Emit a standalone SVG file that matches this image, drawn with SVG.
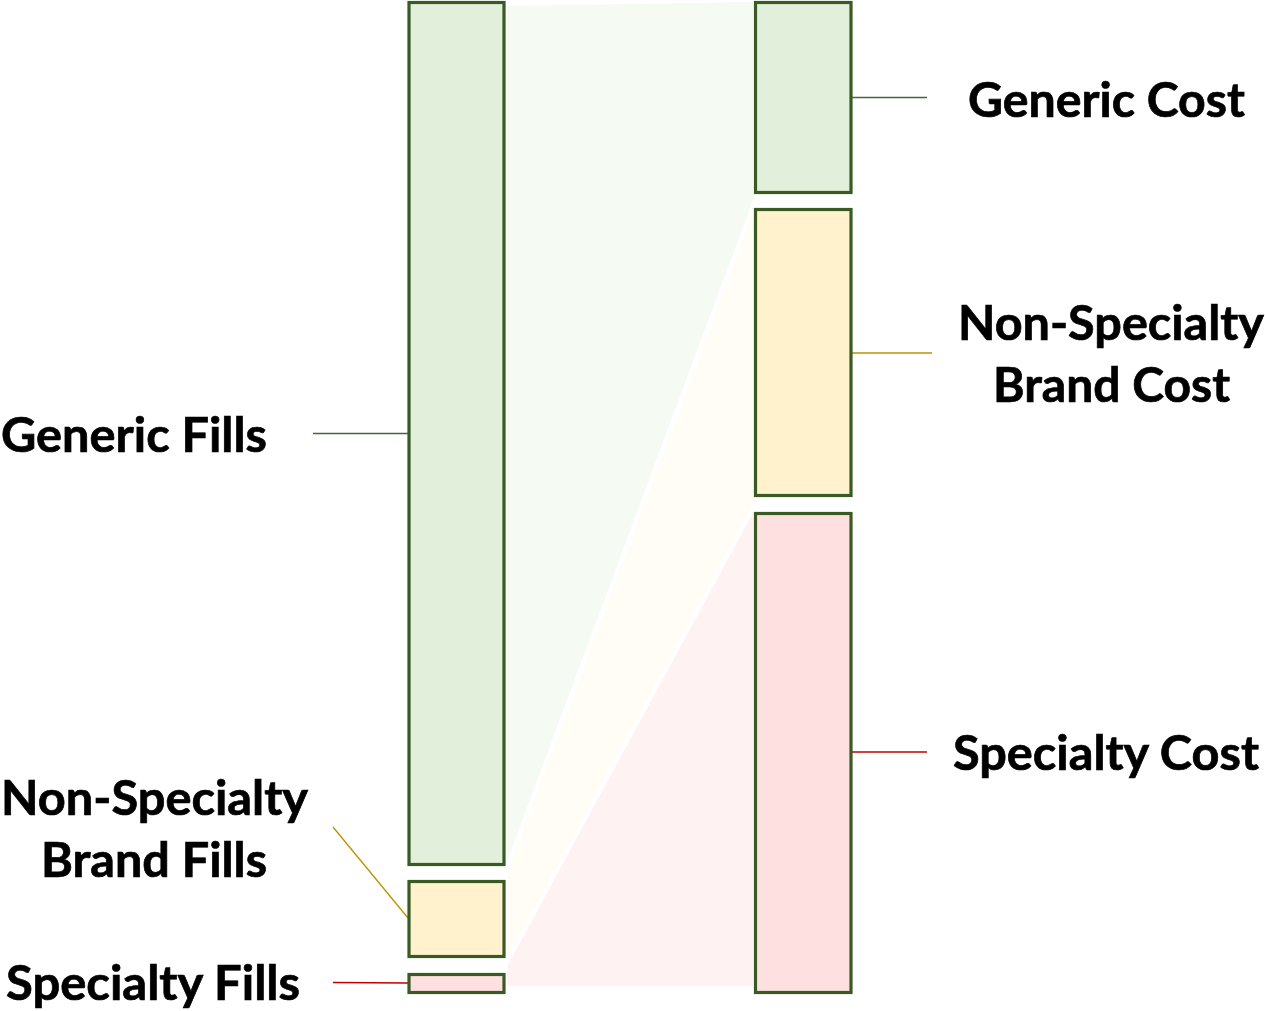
<svg xmlns="http://www.w3.org/2000/svg" width="1265" height="1011" viewBox="0 0 1265 1011">
<style>
.bar{stroke:#3a5a24;stroke-width:3.2}
.g{fill:#e2efda}
.y{fill:#fff2cc}
.p{fill:#ffe0e1}
.flow{stroke:#ffffff;stroke-width:4;stroke-linejoin:miter}
.lbl{font-family:Lato,"Open Sans","Liberation Sans",sans-serif;font-weight:bold;font-size:48px;fill:#000;stroke:#000;stroke-width:0.7}
.ln{fill:none;stroke-width:1.3}
</style>
<rect width="1265" height="1011" fill="#ffffff"/>
<g id="flows">
<polygon class="flow" fill="#f5faf2" points="505,4 755,0 755,201 505,873"/>
<polygon class="flow" fill="#fffdf6" points="505,873 755,201 755,505 505,966"/>
<polygon class="flow" fill="#fff2f2" points="505,966 755,505 755,988 505,988"/>
</g>
<g id="connectors">
<line class="ln" stroke="#4a6535" x1="313" y1="433.5" x2="408" y2="433.5"/>
<line class="ln" stroke="#bf9000" x1="333" y1="827" x2="408" y2="918"/>
<line class="ln" stroke="#c00000" x1="333" y1="982.5" x2="408" y2="983"/>
<line class="ln" stroke="#4a6535" x1="852" y1="97.5" x2="927" y2="97.5"/>
<line class="ln" stroke="#bf9000" x1="852" y1="353" x2="932" y2="353"/>
<line class="ln" stroke="#c00000" x1="852" y1="752" x2="927" y2="752"/>
</g>
<g id="generic-fills">
<rect class="bar g" x="409" y="2.5" width="95" height="862"/>
<text class="lbl" x="1" y="452" textLength="266" lengthAdjust="spacingAndGlyphs">Generic Fills</text>
</g>
<g id="non-specialty-brand-fills">
<rect class="bar y" x="409" y="881.5" width="95" height="75"/>
<text class="lbl" x="1" y="815" textLength="307" lengthAdjust="spacingAndGlyphs">Non-Specialty</text>
<text class="lbl" x="41" y="877" textLength="226" lengthAdjust="spacingAndGlyphs">Brand Fills</text>
</g>
<g id="specialty-fills">
<rect class="bar p" x="409" y="974.5" width="95" height="18"/>
<text class="lbl" x="6" y="1000" textLength="294" lengthAdjust="spacingAndGlyphs">Specialty Fills</text>
</g>
<g id="generic-cost">
<rect class="bar g" x="755.5" y="2.5" width="95.5" height="190"/>
<text class="lbl" x="968" y="117" textLength="277" lengthAdjust="spacingAndGlyphs">Generic Cost</text>
</g>
<g id="non-specialty-brand-cost">
<rect class="bar y" x="755.5" y="209.5" width="95.5" height="286"/>
<text class="lbl" x="958" y="340" textLength="306" lengthAdjust="spacingAndGlyphs">Non-Specialty</text>
<text class="lbl" x="993" y="402" textLength="237" lengthAdjust="spacingAndGlyphs">Brand Cost</text>
</g>
<g id="specialty-cost">
<rect class="bar p" x="755.5" y="513.5" width="95.5" height="479"/>
<text class="lbl" x="953" y="770" textLength="306" lengthAdjust="spacingAndGlyphs">Specialty Cost</text>
</g>
</svg>
